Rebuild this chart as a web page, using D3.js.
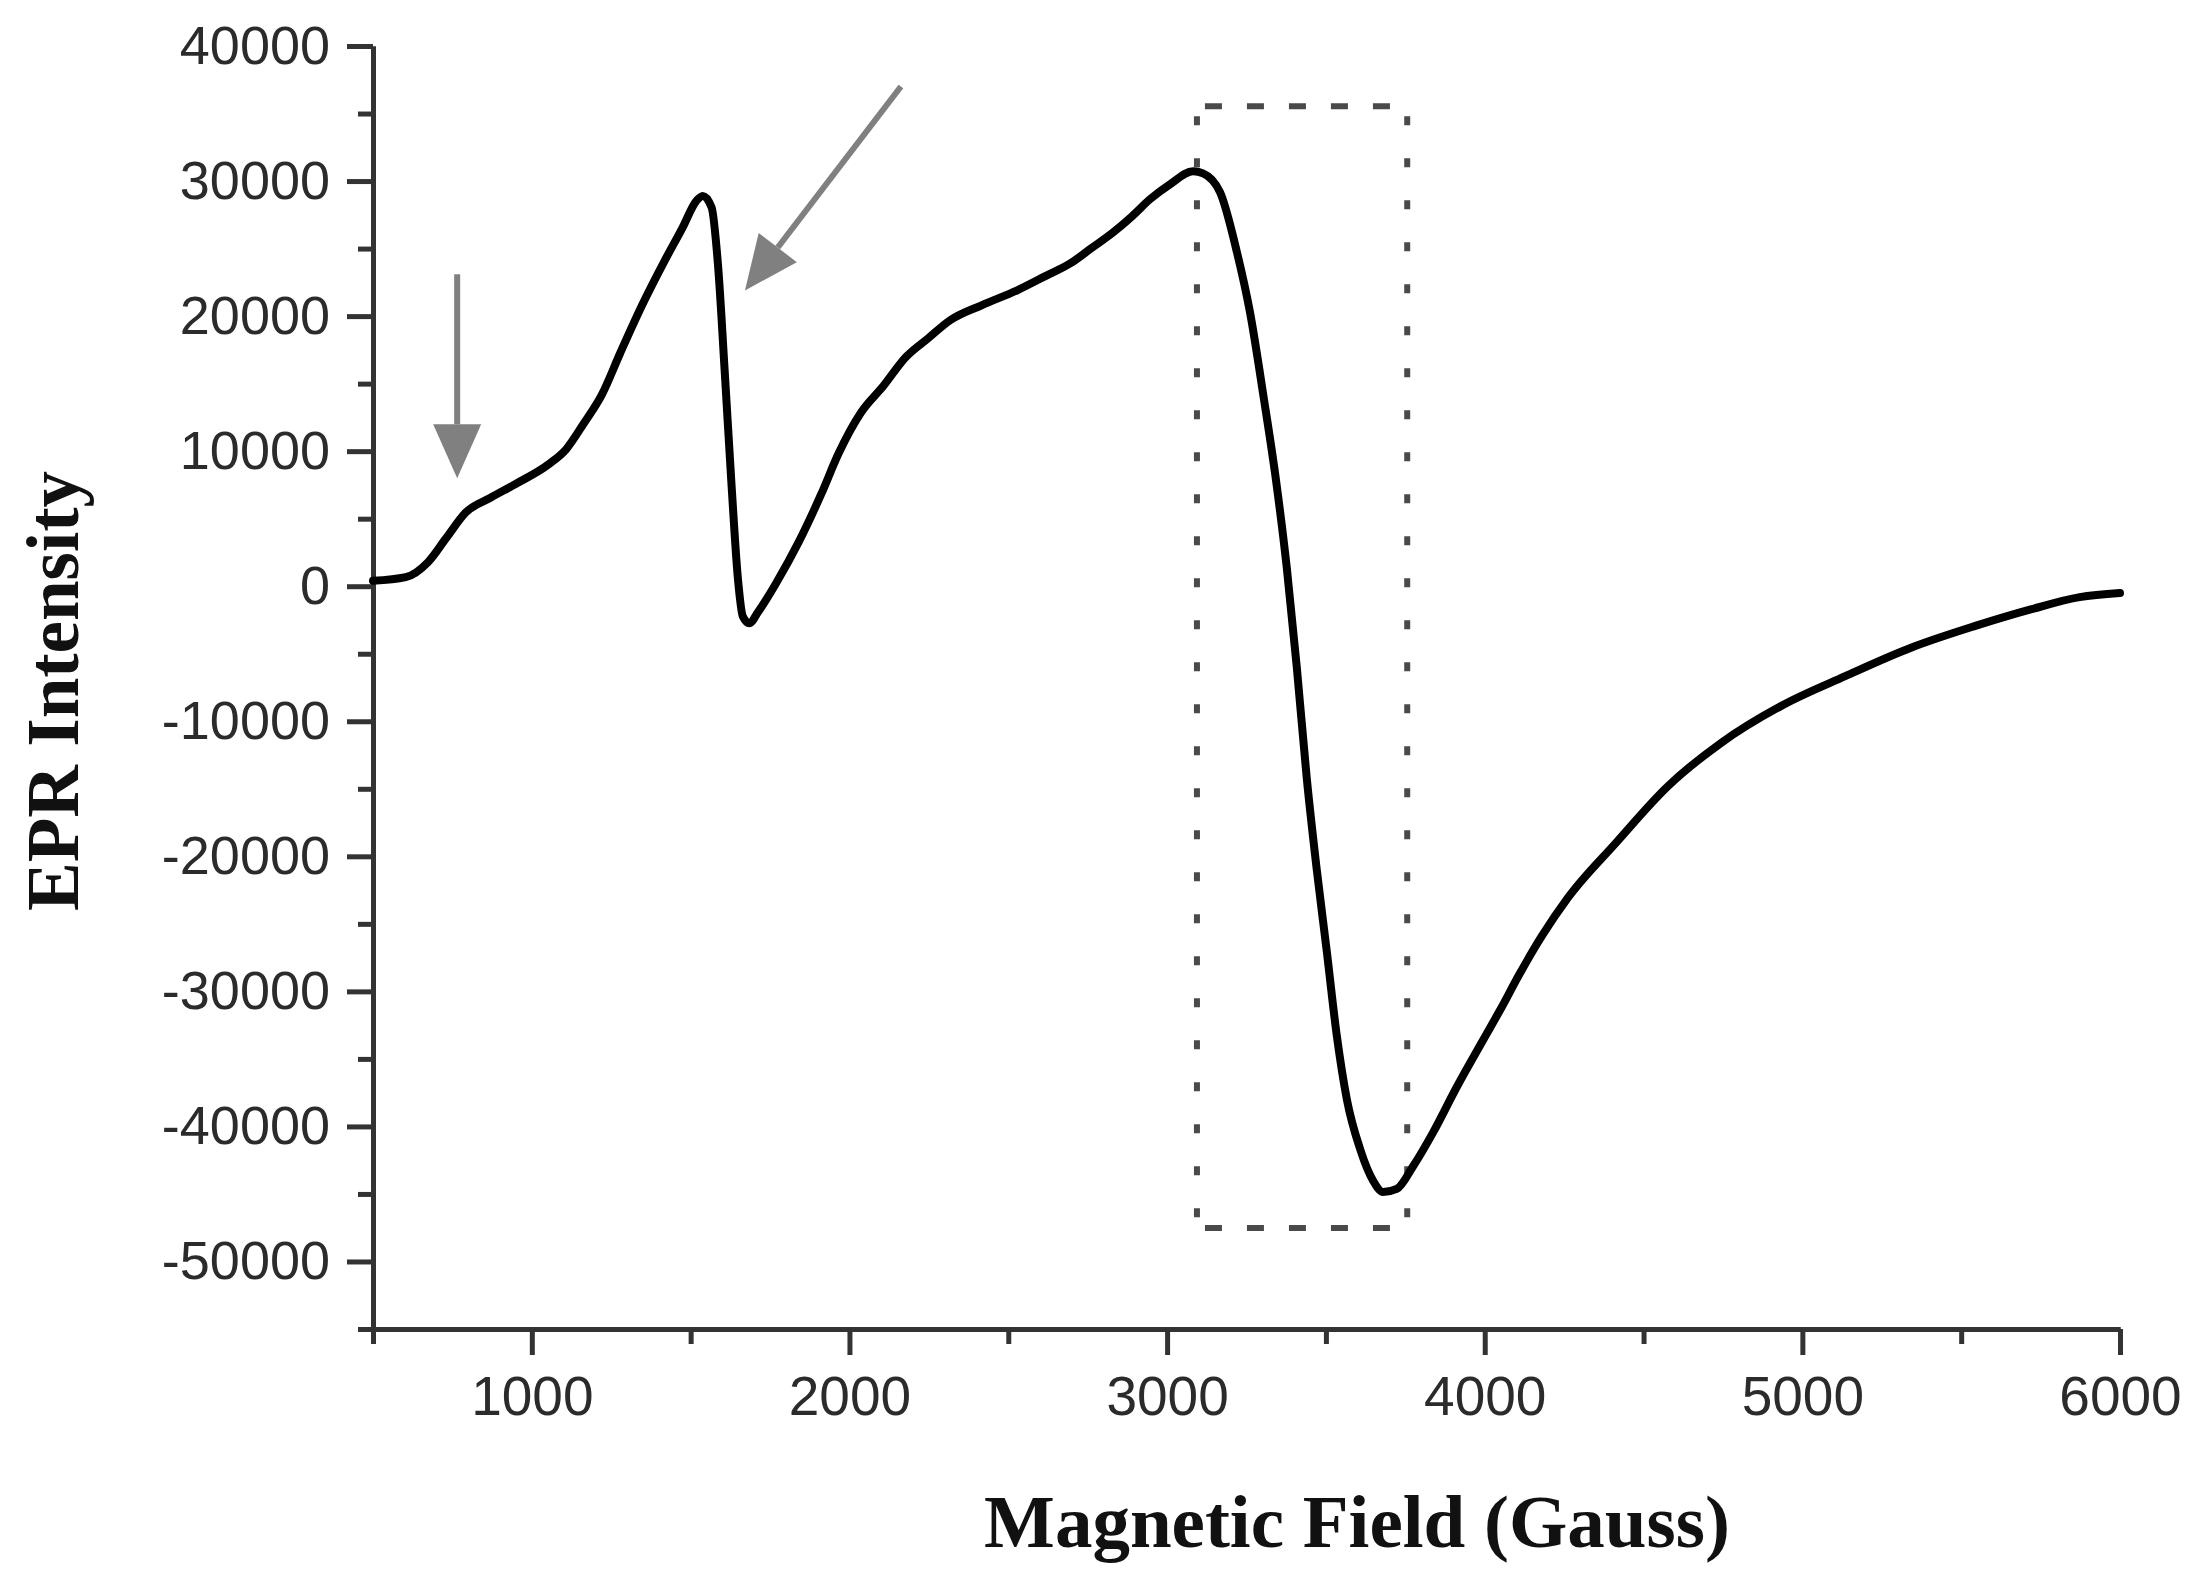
<!DOCTYPE html>
<html>
<head>
<meta charset="utf-8">
<script src="https://cdn.jsdelivr.net/npm/d3@7.9.0/dist/d3.min.js"></script>
<style>
  body { margin: 0; background: #fff; }
  svg { display: block; }
</style>
</head>
<body>
<div id="chart"></div>
<script>
// EPR spectrum
const fieldGauss = [
  500, 603, 673, 730, 793, 870, 953, 1053, 1108, 1164, 1221, 1278, 1347, 1418,
  1475, 1517, 1538, 1566, 1586, 1608, 1629, 1649, 1664, 1685, 1712, 1769, 1840,
  1911, 1966, 2037, 2106, 2177, 2248, 2317, 2416, 2528, 2620, 2695, 2760, 2830,
  2890, 2946, 3009, 3082, 3113, 3167, 3220, 3261, 3303, 3345, 3377, 3408, 3440,
  3471, 3503, 3534, 3566, 3608, 3649, 3680, 3723, 3775, 3838, 3912, 3995, 4048,
  4110, 4180, 4261, 4411, 4577, 4743, 4939, 5135, 5346, 5542, 5722, 5873, 6000,
];
const intensity = [
  400, 670, 1780, 3550, 5480, 6550, 7620, 9030, 10140, 12070, 14210, 17250, 20800, 24090,
  26570, 28500, 28900, 28050, 23830, 15620, 7400, 520, -2220, -2740, -1920, 220, 3260,
  6810, 9840, 12880, 14800, 16950, 18360, 19690, 20800, 21910, 23000, 23900, 25000, 26200,
  27400, 28650, 29760, 30720, 30570, 29160, 24720, 20280, 14140, 7480, 1330, -5920, -14290,
  -20950, -27090, -33230, -38000, -41700, -44040, -44860, -44630, -42930, -40420, -37080, -33600, -31400,
  -28700, -25900, -23100, -19060, -14800, -11620, -8790, -6660, -4520, -2960, -1700, -810, -500,
];

const xMajorTicks = [1000, 2000, 3000, 4000, 5000, 6000];
const xMinorTicks = [500, 1500, 2500, 3500, 4500, 5500];
const yMajorTicks = [-50000, -40000, -30000, -20000, -10000, 0, 10000, 20000, 30000, 40000];
const yMinorTicks = [-55000, -45000, -35000, -25000, -15000, -5000, 5000, 15000, 25000, 35000];

// annotations, in data units
const arrowStart = [[765, 23100], [2162, 37000]];
const arrowEnd = [[765, 8000], [1671, 21900]];
const boxField = [3094, 3756];
const boxIntensity = [35530, -47520];

const width = 2207;
const height = 1588;
const plot = { left: 373, right: 2120, top: 46, bottom: 1329 };

const svg = d3
  .select('#chart')
  .append('svg')
  .attr('width', width)
  .attr('height', height)
  .attr('viewBox', `0 0 ${width} ${height}`);

const xScale = d3.scaleLinear().domain([500, 6000]).range([plot.left, plot.right]);
const yScale = d3.scaleLinear().domain([-55000, 40000]).range([plot.bottom, plot.top]);

const axisColor = '#333';
const labelFont = '"Liberation Sans", Arial, sans-serif';
const titleFont = '"Liberation Serif", "Times New Roman", serif';
const plainNumber = (d) => String(d); // keeps the ASCII hyphen of the original

function styleAxis(g) {
  g.select('.domain').attr('stroke', axisColor).attr('stroke-width', 5);
  g.selectAll('.tick line').attr('stroke', axisColor).attr('stroke-width', 5);
  g.selectAll('.tick text')
    .attr('fill', '#2b2b2b')
    .style('font-family', labelFont);
}

// minor ticks first, majors on top
svg.append('g')
  .attr('transform', `translate(0, ${plot.bottom})`)
  .call(d3.axisBottom(xScale).tickValues(xMinorTicks).tickSize(15).tickSizeOuter(0).tickFormat(''))
  .call(styleAxis);

svg.append('g')
  .attr('transform', `translate(${plot.left}, 0)`)
  .call(d3.axisLeft(yScale).tickValues(yMinorTicks).tickSize(15).tickSizeOuter(0).tickFormat(''))
  .call(styleAxis);

svg.append('g')
  .attr('transform', `translate(0, ${plot.bottom})`)
  .call(
    d3.axisBottom(xScale)
      .tickValues(xMajorTicks)
      .tickSize(26)
      .tickSizeOuter(0)
      .tickPadding(21)
      .tickFormat(plainNumber),
  )
  .call(styleAxis)
  .call((g) => g.selectAll('.tick text').style('font-size', '55px'));

svg.append('g')
  .attr('transform', `translate(${plot.left}, 0)`)
  .call(
    d3.axisLeft(yScale)
      .tickValues(yMajorTicks)
      .tickSize(26)
      .tickSizeOuter(0)
      .tickPadding(17)
      .tickFormat(plainNumber),
  )
  .call(styleAxis)
  .call((g) => g.selectAll('.tick text').style('font-size', '54px'));

// dashed box around the main signal
const bx0 = xScale(boxField[0]);
const bx1 = xScale(boxField[1]);
const by0 = yScale(boxIntensity[0]);
const by1 = yScale(boxIntensity[1]);
const box = svg.append('g').attr('stroke', '#4a4a4a').attr('stroke-width', 6).attr('fill', 'none');
box.append('line').attr('x1', bx0 + 8).attr('x2', bx1).attr('y1', by0).attr('y2', by0).attr('stroke-dasharray', '17,25');
box.append('line').attr('x1', bx0 + 8).attr('x2', bx1).attr('y1', by1).attr('y2', by1).attr('stroke-dasharray', '17,25');
box.append('line').attr('x1', bx0).attr('x2', bx0).attr('y1', by0 + 10).attr('y2', by1).attr('stroke-dasharray', '9,33');
box.append('line').attr('x1', bx1).attr('x2', bx1).attr('y1', by0 + 10).attr('y2', by1).attr('stroke-dasharray', '9,33');

// spectrum
const line = d3
  .line()
  .x((d, i) => xScale(fieldGauss[i]))
  .y((d) => yScale(d))
  .curve(d3.curveMonotoneX);

svg.append('path')
  .datum(intensity)
  .attr('fill', 'none')
  .attr('stroke', '#000')
  .attr('stroke-width', 8)
  .attr('stroke-linejoin', 'round')
  .attr('stroke-linecap', 'round')
  .attr('d', line);

// gray arrows
const arrowColor = '#808080';
const headLength = 54;
const headHalf = 24;
arrowStart.forEach((s, i) => {
  const x0 = xScale(s[0]);
  const y0 = yScale(s[1]);
  const x1 = xScale(arrowEnd[i][0]);
  const y1 = yScale(arrowEnd[i][1]);
  const len = Math.hypot(x1 - x0, y1 - y0);
  const ux = (x1 - x0) / len;
  const uy = (y1 - y0) / len;
  const bx = x1 - ux * headLength;
  const by = y1 - uy * headLength;
  svg.append('line')
    .attr('x1', x0).attr('y1', y0)
    .attr('x2', bx).attr('y2', by)
    .attr('stroke', arrowColor)
    .attr('stroke-width', 6);
  svg.append('polygon')
    .attr('points', [
      [x1, y1],
      [bx - uy * headHalf, by + ux * headHalf],
      [bx + uy * headHalf, by - ux * headHalf],
    ].map((p) => p.join(',')).join(' '))
    .attr('fill', arrowColor);
});

// axis titles
svg.append('text')
  .attr('x', 1357)
  .attr('y', 1547)
  .attr('text-anchor', 'middle')
  .style('font-family', titleFont)
  .style('font-weight', 'bold')
  .style('font-size', '75px')
  .attr('fill', '#111')
  .text('Magnetic Field (Gauss)');

svg.append('text')
  .attr('transform', 'translate(78, 691) rotate(-90)')
  .attr('text-anchor', 'middle')
  .style('font-family', titleFont)
  .style('font-weight', 'bold')
  .style('font-size', '73px')
  .attr('fill', '#111')
  .text('EPR Intensity');
</script>
</body>
</html>
